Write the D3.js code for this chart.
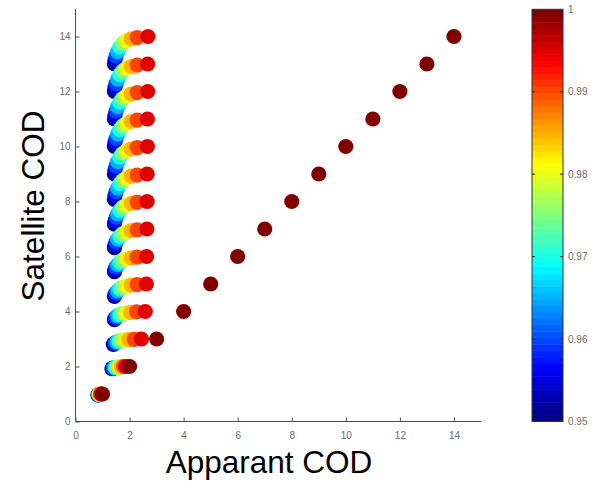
<!DOCTYPE html>
<html>
<head>
<meta charset="utf-8">
<script src="https://d3js.org/d3.v7.min.js"></script>
<style>
  html, body { margin: 0; padding: 0; background: #fff; }
  svg { display: block; font-family: "Liberation Sans", Arial, sans-serif; }
</style>
</head>
<body>
<svg id="chart" width="594" height="482"></svg>
<script>
// Single-scattering albedo of each curve point (colour variable)
const albedo = [0.95, 0.955, 0.96, 0.965, 0.97, 0.975, 0.98, 0.985, 0.99, 0.995];

// Cloud optical depth of each group (non-absorbing case)
const groupCOD = [1, 2, 3, 4, 5, 6, 7, 8, 9, 10, 11, 12, 13, 14];

// Apparent COD per group, one value per albedo
const apparentCOD = [
  [0.83, 0.84, 0.85, 0.86, 0.87, 0.88, 0.89, 0.91, 0.93, 0.95],
  [1.35, 1.37, 1.40, 1.44, 1.49, 1.55, 1.62, 1.70, 1.78, 1.86],
  [1.40, 1.43, 1.47, 1.53, 1.60, 1.69, 1.81, 1.97, 2.17, 2.44],
  [1.44, 1.46, 1.50, 1.56, 1.64, 1.74, 1.87, 2.04, 2.26, 2.58],
  [1.44, 1.46, 1.50, 1.56, 1.64, 1.74, 1.88, 2.06, 2.28, 2.62],
  [1.44, 1.46, 1.50, 1.56, 1.64, 1.74, 1.88, 2.06, 2.28, 2.63],
  [1.44, 1.46, 1.50, 1.56, 1.64, 1.74, 1.88, 2.06, 2.28, 2.64],
  [1.44, 1.46, 1.50, 1.56, 1.64, 1.74, 1.88, 2.06, 2.28, 2.65],
  [1.44, 1.46, 1.50, 1.56, 1.64, 1.74, 1.88, 2.06, 2.28, 2.65],
  [1.44, 1.46, 1.50, 1.56, 1.64, 1.74, 1.88, 2.06, 2.28, 2.66],
  [1.44, 1.46, 1.50, 1.56, 1.64, 1.74, 1.88, 2.06, 2.28, 2.66],
  [1.44, 1.46, 1.50, 1.56, 1.64, 1.74, 1.88, 2.06, 2.28, 2.67],
  [1.44, 1.46, 1.50, 1.56, 1.64, 1.74, 1.88, 2.06, 2.28, 2.67],
  [1.44, 1.46, 1.50, 1.56, 1.64, 1.74, 1.88, 2.06, 2.28, 2.68]
];

// Satellite COD per group, one value per albedo
const satelliteCOD = [
  [0.97, 0.97, 0.98, 0.98, 0.99, 0.99, 1.0, 1.0, 1.0, 1.0],
  [1.92, 1.93, 1.94, 1.96, 1.97, 1.98, 1.99, 1.99, 2.0, 2.0],
  [2.80, 2.83, 2.86, 2.89, 2.92, 2.95, 2.97, 2.98, 2.99, 3.0],
  [3.70, 3.74, 3.79, 3.84, 3.88, 3.92, 3.95, 3.97, 3.99, 4.0],
  [4.55, 4.61, 4.68, 4.75, 4.82, 4.88, 4.93, 4.96, 4.98, 5.0],
  [5.45, 5.53, 5.61, 5.70, 5.79, 5.86, 5.91, 5.95, 5.98, 6.0],
  [6.32, 6.42, 6.52, 6.63, 6.73, 6.82, 6.89, 6.94, 6.97, 7.0],
  [7.18, 7.29, 7.42, 7.55, 7.68, 7.79, 7.87, 7.93, 7.97, 8.0],
  [8.08, 8.21, 8.35, 8.49, 8.64, 8.76, 8.85, 8.92, 8.96, 9.0],
  [9.00, 9.14, 9.29, 9.45, 9.61, 9.74, 9.84, 9.91, 9.96, 10.0],
  [10.00, 10.14, 10.29, 10.45, 10.61, 10.74, 10.84, 10.91, 10.96, 11.0],
  [11.00, 11.14, 11.29, 11.45, 11.61, 11.74, 11.84, 11.91, 11.96, 12.0],
  [12.00, 12.14, 12.29, 12.45, 12.61, 12.74, 12.84, 12.91, 12.96, 13.0],
  [13.00, 13.14, 13.29, 13.45, 13.61, 13.74, 13.84, 13.91, 13.96, 14.0]
];

// Non-absorbing clouds (albedo 1): apparent equals satellite COD
const pureApparent  = [1, 2, 3, 4, 5, 6, 7, 8, 9, 10, 11, 12, 13, 14];
const pureSatellite = [1, 2, 3, 4, 5, 6, 7, 8, 9, 10, 11, 12, 13, 14];
const pureAlbedo = 1;

const axisTicks = [0, 2, 4, 6, 8, 10, 12, 14];
const colorTicks = [0.95, 0.96, 0.97, 0.98, 0.99, 1];
const colorTickLabels = ["0.95", "0.96", "0.97", "0.98", "0.99", "1"];

const svg = d3.select("#chart");

const x = d3.scaleLinear().domain([0, 15]).range([75.5, 481]);
const y = d3.scaleLinear().domain([0, 15]).range([421.5, 9]);

// Jet colour map, 64 discrete levels
const NLEV = 64;
function jet(t) {
  const c = v => Math.max(0, Math.min(1, v));
  const r = c(1.5 - Math.abs(4 * t - 3));
  const g = c(1.5 - Math.abs(4 * t - 2));
  const b = c(1.5 - Math.abs(4 * t - 1));
  return d3.rgb(r * 255, g * 255, b * 255).formatHex();
}
const cNorm = d3.scaleLinear().domain([0.95, 1]).range([0, 1]).clamp(true);
function colorOf(v) {
  const idx = Math.min(NLEV - 1, Math.floor(cNorm(v) * NLEV));
  return jet(idx / (NLEV - 1));
}

// Assemble points; drawn in order of increasing albedo
const points = [];
albedo.forEach((w, j) => {
  groupCOD.forEach((g, i) => {
    points.push({ ax: apparentCOD[i][j], sat: satelliteCOD[i][j], w });
  });
});
pureApparent.forEach((a, i) => {
  points.push({ ax: a, sat: pureSatellite[i], w: pureAlbedo });
});

// Axes
const axisColor = "#4d4d4d";
const tickText = "#6b6b6b";

const xAxis = d3.axisBottom(x).tickValues(axisTicks).tickSize(-4).tickPadding(10).tickFormat(d3.format("d"));
const gx = svg.append("g").attr("transform", `translate(0,${y(0)})`).call(xAxis);
gx.select(".domain").attr("d", `M${x(0)},0H${x(15)}`).attr("stroke", axisColor);
gx.selectAll(".tick line").attr("stroke", axisColor);
gx.selectAll(".tick text").attr("fill", tickText).attr("font-size", 10)
  .attr("font-family", "Liberation Sans, Arial, sans-serif");

const yAxis = d3.axisLeft(y).tickValues(axisTicks).tickSize(-4).tickPadding(5).tickFormat(d3.format("d"));
const gy = svg.append("g").attr("transform", `translate(${x(0)},0)`).call(yAxis);
gy.select(".domain").attr("d", `M0,${y(0)}V${y(15)}`).attr("stroke", axisColor);
gy.selectAll(".tick line").attr("stroke", axisColor);
gy.selectAll(".tick text").attr("fill", tickText).attr("font-size", 10)
  .attr("font-family", "Liberation Sans, Arial, sans-serif");

// Scatter markers
svg.append("g").selectAll("circle")
  .data(points)
  .join("circle")
  .attr("cx", d => x(d.ax))
  .attr("cy", d => y(d.sat))
  .attr("r", 7.6)
  .attr("fill", d => colorOf(d.w));

// Colour bar
const cb = { x0: 532, x1: 563 };
const cy = d3.scaleLinear().domain([0.95, 1]).range([421.5, 9.3]);
const bands = d3.range(NLEV);
svg.append("g").selectAll("rect")
  .data(bands)
  .join("rect")
  .attr("x", cb.x0)
  .attr("width", cb.x1 - cb.x0)
  .attr("y", i => cy(0.95 + (i + 1) * 0.05 / NLEV))
  .attr("height", i => cy(0.95 + i * 0.05 / NLEV) - cy(0.95 + (i + 1) * 0.05 / NLEV) + 0.5)
  .attr("fill", i => jet(i / (NLEV - 1)));

svg.append("rect")
  .attr("x", cb.x0).attr("y", cy(1))
  .attr("width", cb.x1 - cb.x0).attr("height", cy(0.95) - cy(1))
  .attr("fill", "none").attr("stroke", "#333").attr("stroke-width", 1);

const cbTicks = svg.append("g");
cbTicks.selectAll("line.l")
  .data(colorTicks.slice(1, -1))
  .join("line")
  .attr("x1", cb.x0).attr("x2", cb.x0 + 3)
  .attr("y1", d => cy(d)).attr("y2", d => cy(d))
  .attr("stroke", "#222");
cbTicks.selectAll("line.r")
  .data(colorTicks.slice(1, -1))
  .join("line")
  .attr("x1", cb.x1 - 3).attr("x2", cb.x1)
  .attr("y1", d => cy(d)).attr("y2", d => cy(d))
  .attr("stroke", "#222");
cbTicks.selectAll("text")
  .data(colorTicks)
  .join("text")
  .attr("x", 568)
  .attr("y", d => cy(d))
  .attr("dy", "0.35em")
  .attr("font-size", 10)
  .attr("fill", tickText)
  .text((d, i) => colorTickLabels[i]);

// Axis titles
svg.append("text")
  .attr("x", 269).attr("y", 473)
  .attr("text-anchor", "middle")
  .attr("font-size", 31.5)
  .attr("fill", "#000")
  .text("Apparant COD");

// faint underlying small y title, mostly hidden
svg.append("clipPath").attr("id", "ghostClip")
  .append("rect").attr("x", 48).attr("y", 160).attr("width", 4.5).attr("height", 110);
svg.append("text")
  .attr("clip-path", "url(#ghostClip)")
  .attr("transform", "translate(53,215) rotate(-90)")
  .attr("text-anchor", "middle")
  .attr("font-size", 16)
  .attr("fill", "#8a8a8a")
  .text("Satellite COD");

svg.append("text")
  .attr("transform", "translate(44,206) rotate(-90)")
  .attr("text-anchor", "middle")
  .attr("font-size", 31.5)
  .attr("fill", "#000")
  .text("Satellite COD");
</script>
</body>
</html>
